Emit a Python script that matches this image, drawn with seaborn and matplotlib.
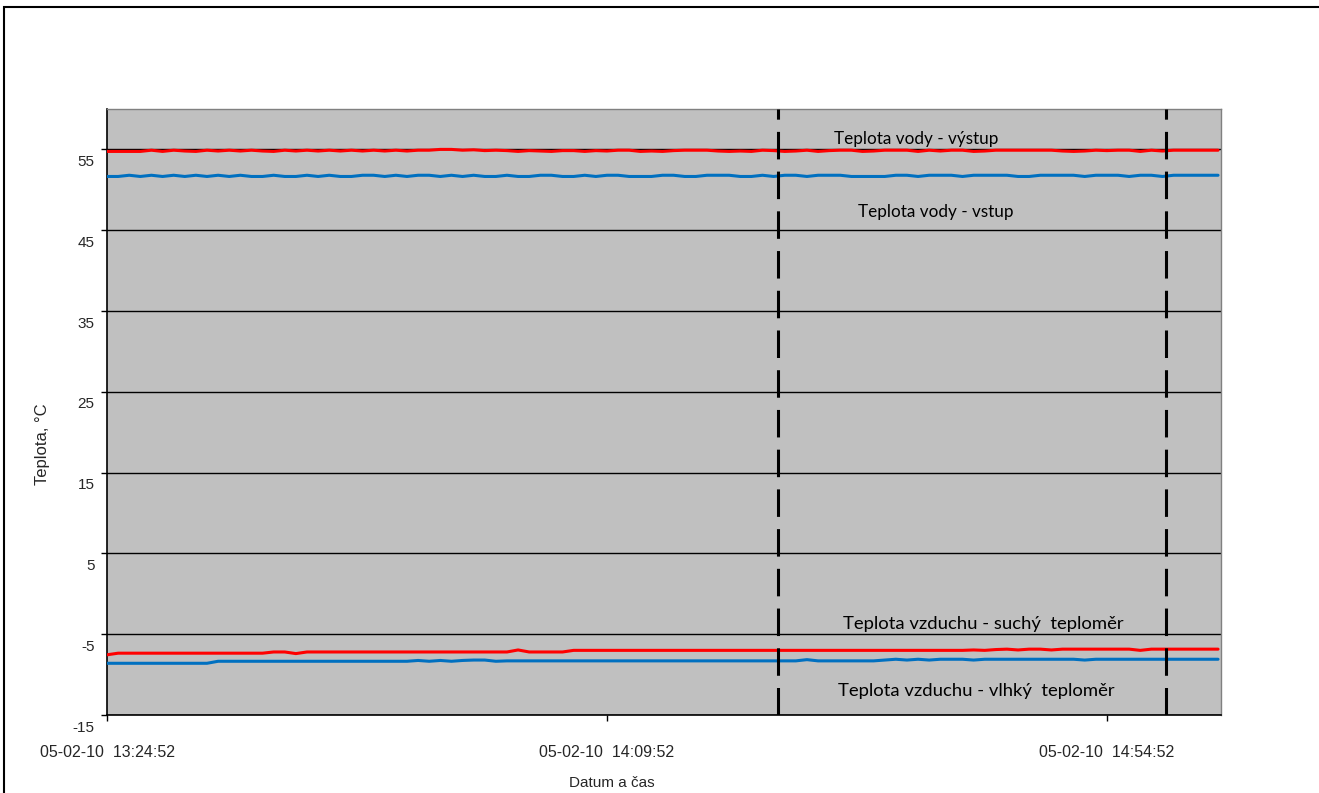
import numpy as np
import pandas as pd
import matplotlib
matplotlib.use('Agg')
import matplotlib.pyplot as plt
import matplotlib.dates as mdates
import seaborn as sns
from matplotlib.transforms import ScaledTranslation
from matplotlib.patches import Rectangle

# ---------------- data ----------------
start_time = '2010-02-05 13:24:52'
n_samples = 101  # one reading per minute

voda_vystup = [54.75, 54.75, 54.75, 54.75, 54.9, 54.75, 54.9, 54.8, 54.75, 54.9,
               54.8, 54.9, 54.8, 54.9, 54.8, 54.75, 54.9, 54.8, 54.9, 54.8,
               54.9, 54.8, 54.9, 54.8, 54.9, 54.8, 54.9, 54.8, 54.9, 54.9,
               55.0, 55.0, 54.9, 54.95, 54.85, 54.9, 54.85, 54.75, 54.85, 54.8,
               54.75, 54.85, 54.85, 54.75, 54.85, 54.8, 54.9, 54.9, 54.75, 54.8,
               54.75, 54.85, 54.9, 54.9, 54.9, 54.8, 54.75, 54.8, 54.75, 54.9,
               54.85, 54.75, 54.8, 54.9, 54.75, 54.85, 54.9, 54.9, 54.75, 54.8,
               54.9, 54.9, 54.9, 54.75, 54.9, 54.8, 54.9, 54.9, 54.75, 54.8,
               54.9, 54.9, 54.9, 54.9, 54.9, 54.9, 54.8, 54.75, 54.8, 54.9,
               54.85, 54.9, 54.9, 54.75, 54.9, 54.8, 54.9, 54.9, 54.9, 54.9,
               54.9]

voda_vstup = [51.65, 51.65, 51.8, 51.65, 51.8, 51.65, 51.8, 51.65, 51.8, 51.65,
              51.8, 51.65, 51.8, 51.65, 51.65, 51.8, 51.65, 51.65, 51.8, 51.65,
              51.8, 51.65, 51.65, 51.8, 51.8, 51.65, 51.8, 51.65, 51.8, 51.8,
              51.65, 51.8, 51.65, 51.8, 51.65, 51.65, 51.8, 51.65, 51.65, 51.8,
              51.8, 51.65, 51.65, 51.8, 51.65, 51.8, 51.8, 51.65, 51.65, 51.65,
              51.8, 51.8, 51.65, 51.65, 51.8, 51.8, 51.8, 51.65, 51.65, 51.8,
              51.65, 51.8, 51.8, 51.65, 51.8, 51.8, 51.8, 51.65, 51.65, 51.65,
              51.65, 51.8, 51.8, 51.65, 51.8, 51.8, 51.8, 51.65, 51.8, 51.8,
              51.8, 51.8, 51.65, 51.65, 51.8, 51.8, 51.8, 51.8, 51.65, 51.8,
              51.8, 51.8, 51.65, 51.8, 51.8, 51.65, 51.8, 51.8, 51.8, 51.8,
              51.8]

vzduch_suchy = ([-7.55] + [-7.35] * 14 + [-7.2, -7.2, -7.4] + [-7.2] * 18
                + [-7.2, -6.95] + [-7.2] * 4 + [-7.0] * 36
                + [-6.95, -7.0, -6.9, -6.85, -6.95, -6.85, -6.85, -6.95]
                + [-6.85] * 7 + [-7.0] + [-6.85] * 7)

vzduch_vlhky = ([-8.6] * 10 + [-8.35] * 18
                + [-8.25, -8.35, -8.25, -8.35, -8.25, -8.2, -8.2, -8.35]
                + [-8.3] * 27 + [-8.15] + [-8.3] * 6 + [-8.2, -8.1, -8.2]
                + [-8.1, -8.2, -8.1, -8.1, -8.1, -8.2] + [-8.1] * 9 + [-8.2]
                + [-8.1] * 12)

marker_times = ['2010-02-05 14:25:16', '2010-02-05 15:00:10']
x_tick_times = ['2010-02-05 13:24:52', '2010-02-05 14:09:52', '2010-02-05 14:54:52']
x_end_time = '2010-02-05 15:05:08'
y_ticks = [-15, -5, 5, 15, 25, 35, 45, 55]

series_names = ['Teplota vody - výstup', 'Teplota vody - vstup',
                'Teplota vzduchu - suchý  teploměr', 'Teplota vzduchu - vlhký  teploměr']
series_colors = ['#FF0000', '#0070C0', '#FF0000', '#0070C0']

# ---------------- figure ----------------
sns.set_theme(style='white')
plt.rcParams['font.family'] = ['Liberation Sans', 'DejaVu Sans']

times = pd.date_range(start_time, periods=n_samples, freq='1min')
df = pd.DataFrame({'time': times,
                   series_names[0]: voda_vystup,
                   series_names[1]: voda_vstup,
                   series_names[2]: vzduch_suchy,
                   series_names[3]: vzduch_vlhky})
long = df.melt(id_vars='time', var_name='series', value_name='temp')

W, H = 1319, 793
fig = plt.figure(figsize=(W / 100, H / 100), dpi=100)
fig.patch.set_facecolor('white')
ax = fig.add_axes([107 / W, 1 - 715 / H, (1221 - 107) / W, (715 - 109) / H])
ax.set_facecolor('#C0C0C0')

sns.lineplot(data=long, x='time', y='temp', hue='series', hue_order=series_names,
             palette=dict(zip(series_names, series_colors)), linewidth=2.2,
             legend=False, ax=ax, zorder=3)

for t in marker_times:
    ax.axvline(pd.Timestamp(t), color='black', lw=2.2, ls=(0, (9, 4)), zorder=4)

ax.set_ylim(-15, 60)
ax.set_xlim(pd.Timestamp(start_time), pd.Timestamp(x_end_time))
ax.set_yticks(y_ticks)
ax.set_yticklabels([str(v) for v in y_ticks])
ax.yaxis.grid(True, color='black', lw=1.0)
ax.xaxis.grid(False)
ax.set_axisbelow(True)

ax.set_xticks([pd.Timestamp(t) for t in x_tick_times])
ax.xaxis.set_major_formatter(mdates.DateFormatter('%d-%m-%y  %H:%M:%S'))

ax.tick_params(axis='y', direction='out', length=4.5, width=1, color='black',
               labelsize=11, pad=4.5, left=True)
ax.tick_params(axis='x', direction='out', length=4.5, width=1, color='black',
               labelsize=11.5, pad=17, bottom=True)
for lab in ax.get_yticklabels():
    lab.set_transform(lab.get_transform() + ScaledTranslation(0, -11 / 100, fig.dpi_scale_trans))

for s in ['left', 'bottom']:
    ax.spines[s].set_color('black')
    ax.spines[s].set_linewidth(1.2)
for s in ['top', 'right']:
    ax.spines[s].set_color('#808080')
    ax.spines[s].set_linewidth(1.0)

ax.set_xlabel('Datum a čas', fontsize=11)
ax.set_ylabel('Teplota, °C', fontsize=12)
ax.xaxis.set_label_coords((612 - 107) / 1114, -(783 - 715) / 606)
ax.yaxis.set_label_coords(-(107 - 43) / 1114, (715 - 444) / 606)
ax.xaxis.label.set_va('center')
ax.yaxis.label.set_va('center')

# series labels
label_pos = [('2010-02-05 14:37:44', 56.25, series_names[0], 12.3),
             ('2010-02-05 14:39:30', 47.25, series_names[1], 12.3),
             ('2010-02-05 14:43:46', -3.75, series_names[2], 13.3),
             ('2010-02-05 14:43:04', -12.05, series_names[3], 13.3)]
for t, y, txt, fs in label_pos:
    ax.text(pd.Timestamp(t), y, txt, ha='center', va='center', fontsize=fs,
            family=['Lato', 'DejaVu Sans'], color='black', zorder=5)

# outer chart frame
fig.add_artist(Rectangle((4 / W, -0.1), 1.5, 1 - 7 / H + 0.1, transform=fig.transFigure,
                         fill=False, ec='black', lw=1.5))

fig.savefig('out.png', dpi=100)
